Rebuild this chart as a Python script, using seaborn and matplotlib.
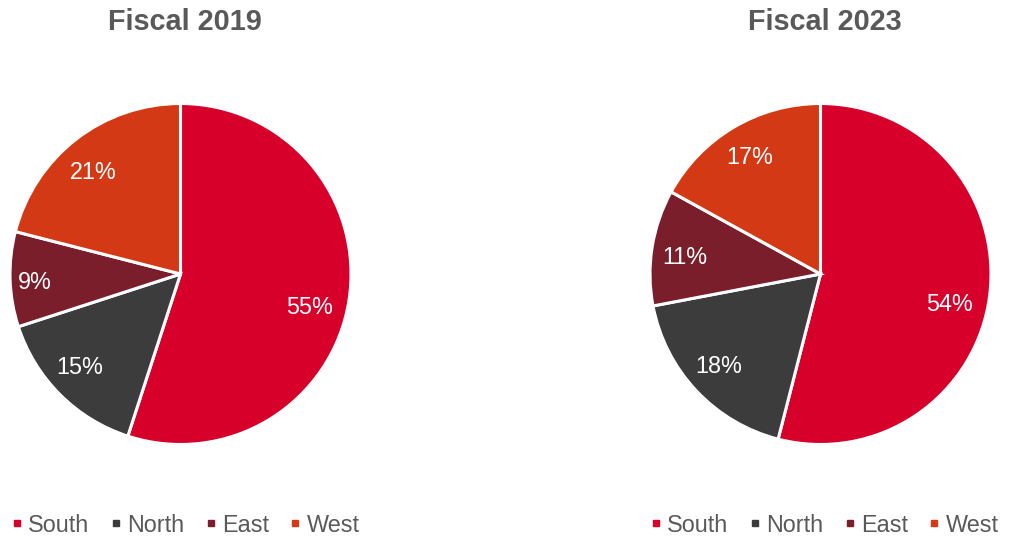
import matplotlib
matplotlib.use("Agg")
import matplotlib.pyplot as plt
from matplotlib.lines import Line2D
import seaborn as sns

sns.set_theme(style="white")
plt.rcParams["font.family"] = ["Liberation Sans", "DejaVu Sans"]

regions = ["South", "North", "East", "West"]
share_2019 = [55, 15, 9, 21]
share_2023 = [54, 18, 11, 17]
titles = ["Fiscal 2019", "Fiscal 2023"]
palette = ["#D6002A", "#3C3C3C", "#7B1E2B", "#D43915"]

# best-fit placement of the percentage labels, in units of the pie radius
label_spots = [
    [(0.757, -0.199), (-0.589, -0.548), (-0.853, -0.047), (-0.513, 0.598)],
    [(0.757, -0.176), (-0.598, -0.540), (-0.798, 0.094), (-0.413, 0.683)],
]

TEXT = "#595959"
W, H = 1009, 537
fig = plt.figure(figsize=(W / 100, H / 100), dpi=100)

radius_px = 170.5
centers = [(180.5, 274), (820.5, 274)]
legend_x = [10.7, 649.7]

for (cx, cy), values, title, lx, spots in zip(centers, [share_2019, share_2023],
                                             titles, legend_x, label_spots):
    ax = fig.add_axes([(cx - radius_px) / W, (H - cy - radius_px) / H,
                       2 * radius_px / W, 2 * radius_px / H])
    _, _, autotexts = ax.pie(values, colors=palette, startangle=90, counterclock=False,
                             autopct=lambda p: f"{p:.0f}%", pctdistance=0.79,
                             wedgeprops=dict(edgecolor="white", linewidth=2.2),
                             textprops=dict(color="white", fontsize=16.8))
    for t, pos in zip(autotexts, spots):
        t.set_position(pos)
    ax.set_xlim(-1, 1)
    ax.set_ylim(-1, 1)
    ax.set_aspect("equal")
    ax.axis("off")

    fig.text(cx / W + 0.004, 1 - 22 / H, title, ha="center", va="center",
             fontsize=20.8, fontweight="bold", color=TEXT)

    handles = [Line2D([0], [0], marker="s", linestyle="none", markersize=5,
                      markerfacecolor=c, markeredgecolor=c) for c in palette]
    leg = fig.legend(handles, regions, loc="center left",
                     bbox_to_anchor=(lx / W, 1 - 525 / H), ncol=4, frameon=False,
                     fontsize=16.8, handlelength=0.5, handletextpad=0.25,
                     columnspacing=0.87, borderpad=0, borderaxespad=0)
    for t in leg.get_texts():
        t.set_color(TEXT)

fig.savefig("out.png", dpi=100, facecolor="white")
